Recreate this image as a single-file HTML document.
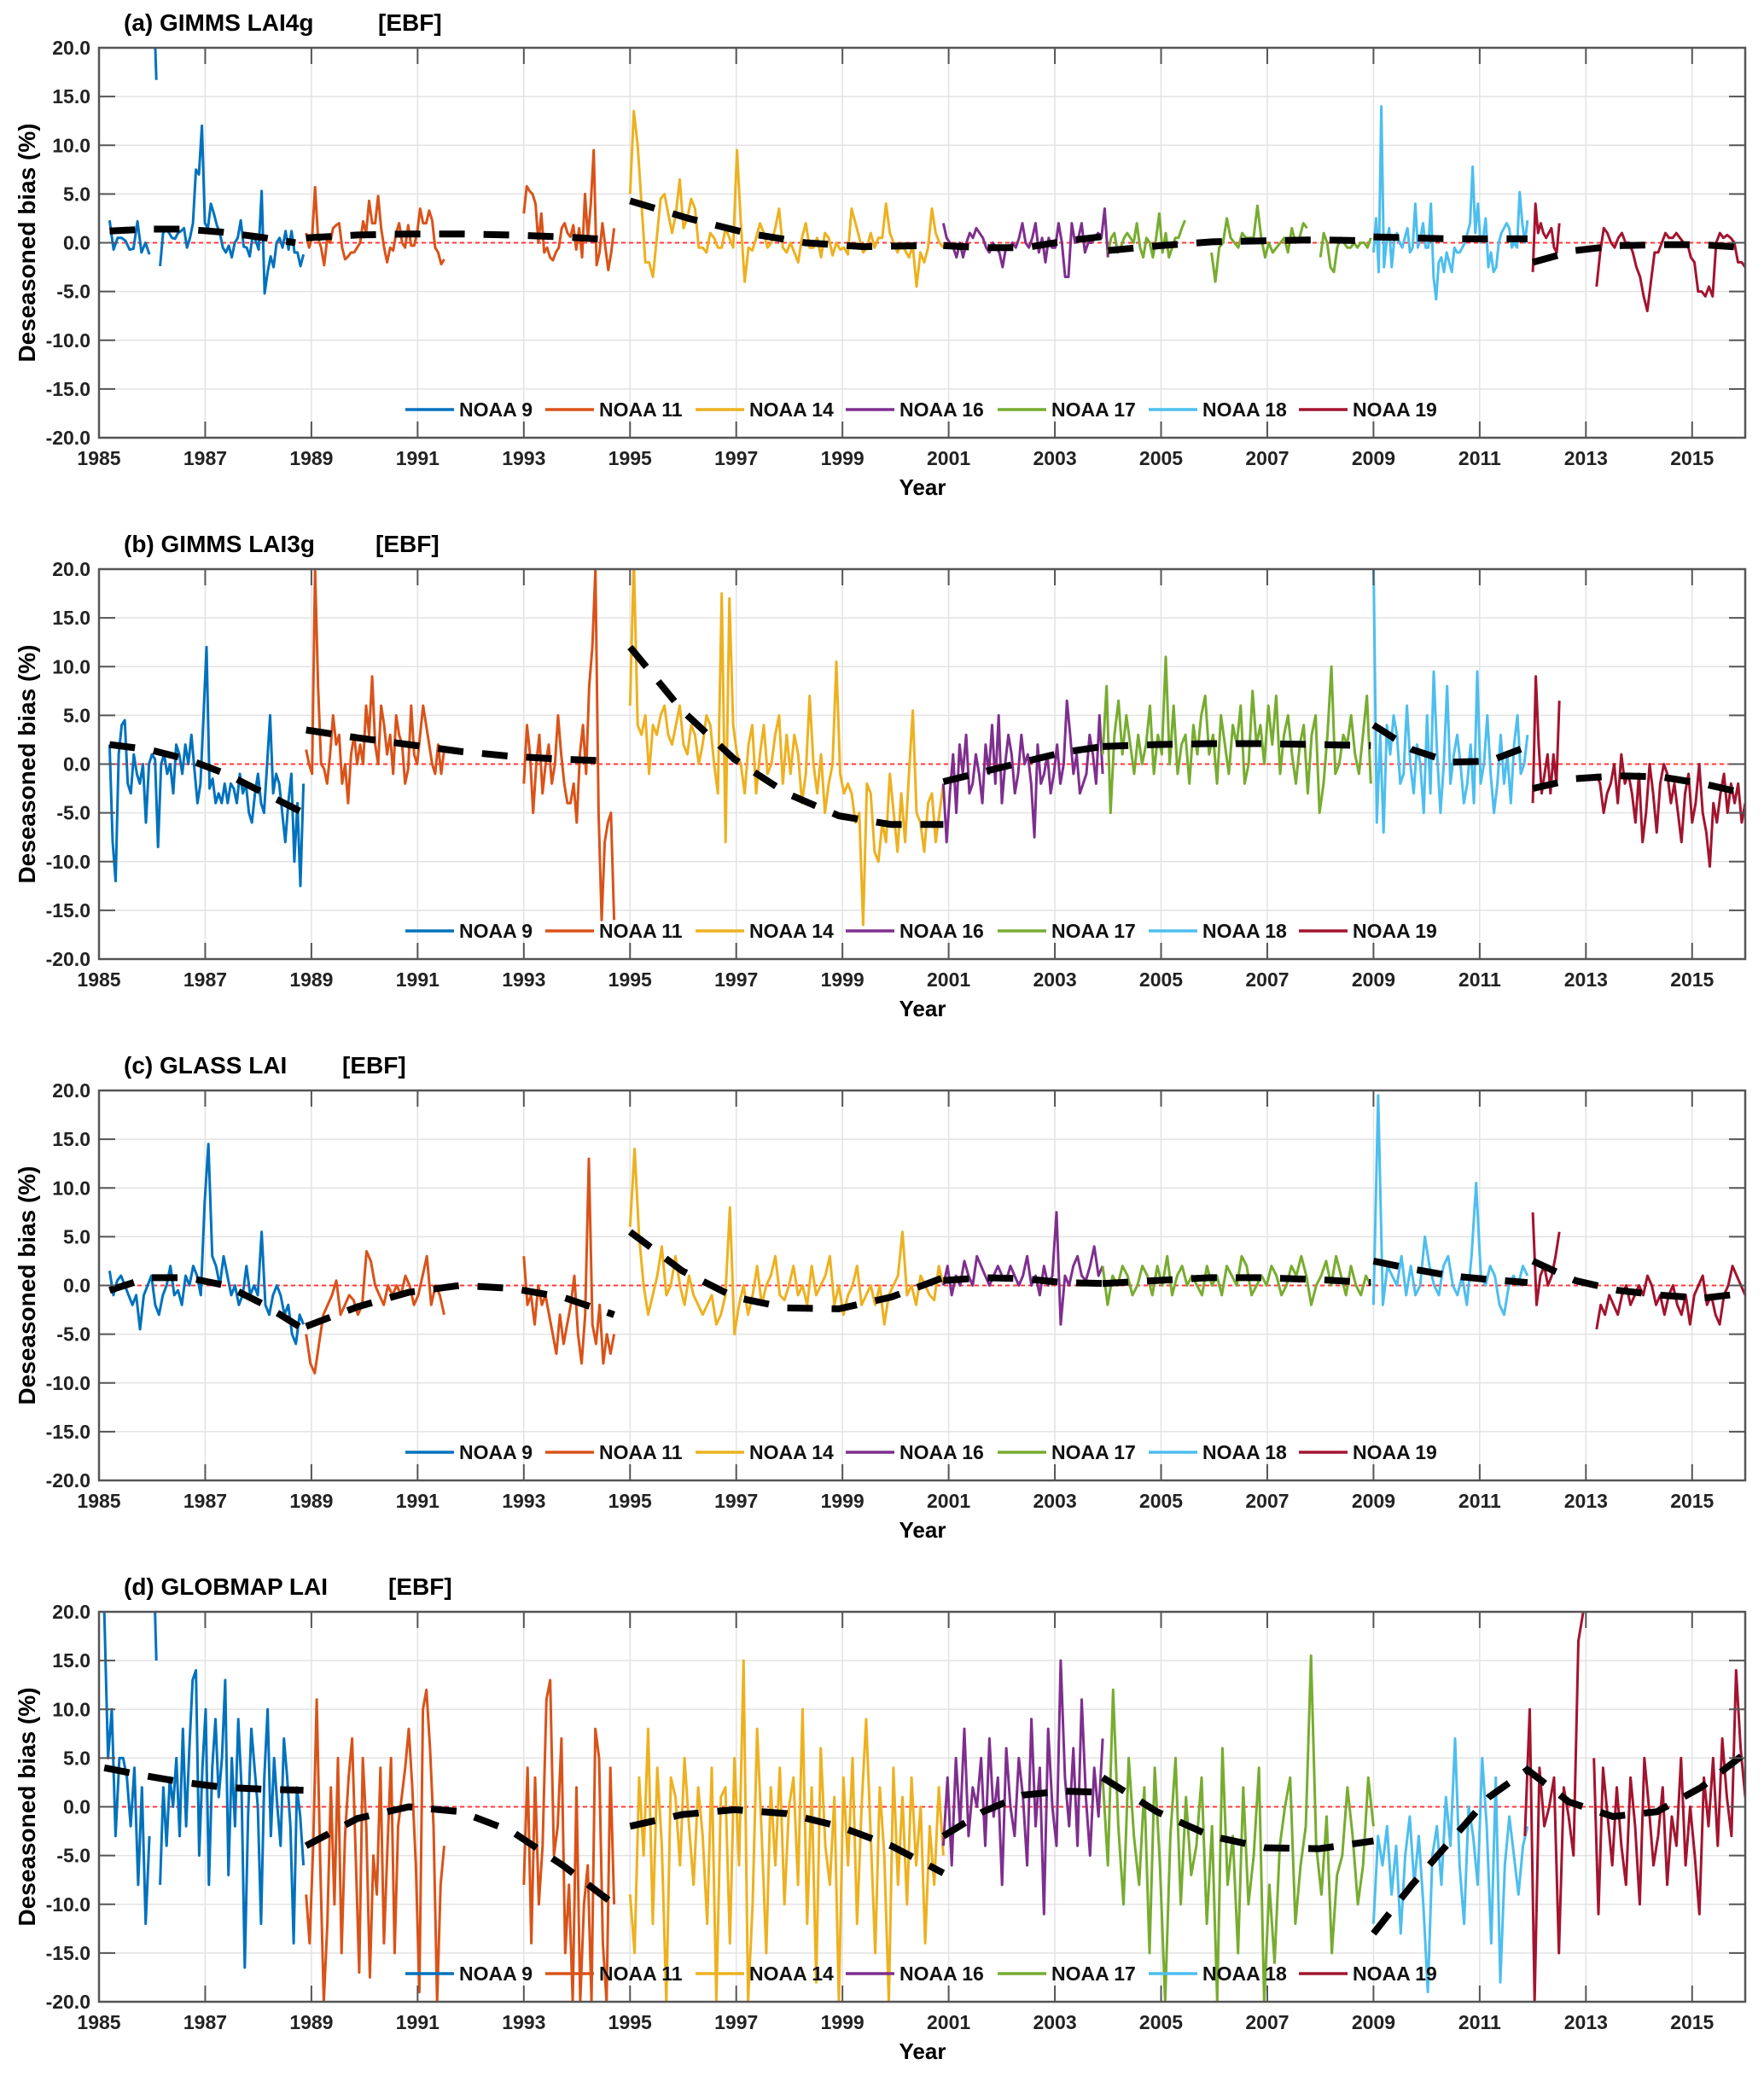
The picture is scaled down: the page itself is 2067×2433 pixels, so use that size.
<!DOCTYPE html>
<html><head><meta charset="utf-8"><style>
html,body{margin:0;padding:0;background:#fff;}
svg{display:block;font-family:"Liberation Sans",Arial,sans-serif;}
</style></head><body>
<svg id="chart" width="2067" height="2433" viewBox="0 0 2067 2433" xmlns="http://www.w3.org/2000/svg"></svg>
<script>
// ---- shared data ----
const satNames = ["NOAA 9","NOAA 11","NOAA 14","NOAA 16","NOAA 17","NOAA 18","NOAA 19"];
const satColors = ["#0072BD","#D95319","#EDB120","#7E2F8E","#77AC30","#4DBEEE","#A2142F"];
const xTicks = [1985,1987,1989,1991,1993,1995,1997,1999,2001,2003,2005,2007,2009,2011,2013,2015];
const yTicks = [-20,-15,-10,-5,0,5,10,15,20];
const panelTitles = ["(a) GIMMS LAI4g","(b) GIMMS LAI3g","(c) GLASS LAI","(d) GLOBMAP LAI"];

// ---- panel (a) ----
const aSats = [0,0,0,1,1,2,3,4,4,4,5,6,6];
const aSpans = [[1985.2,1985.95],[1986.03,1986.08],[1986.15,1988.85],[1988.9,1991.5],[1993.0,1994.7],[1995.0,2000.9],[2000.9,2004.0],[2004.0,2005.45],[2005.95,2007.75],[2008.0,2008.95],[2009.0,2011.9],[2012.0,2012.5],[2013.2,2016.0]];
const aVals = [
 [2.3,-0.7,0.5,0.5,0.2,-0.7,-0.6,2.2,-1,0,-1.2],
 [25,16.7],
 [-2.4,1,1.5,1,0.5,0.4,1,1.2,1.5,-0.5,0.5,2,7.5,7,12,2,1.5,4,3,1.8,1,-0.5,-1,-0.3,-1.5,0,0.5,2.3,-0.4,-0.5,-1.4,0.8,0.2,-0.7,5.3,-5.2,-3,-1.4,-2.5,0,0.5,-0.5,1.2,-0.7,1.2,-1,-1,-2.4,-1.2],
 [1,-0.5,0.5,5.7,0.5,-0.5,-2.3,0.3,0,1.5,1.8,2,-0.5,-1.7,-1.4,-1,-1,-0.5,0,2.2,1,4.3,2,2,4.8,1.5,-0.5,-2,-0.5,-0.8,1,2,0,-0.5,1.8,-0.3,-0.3,1,3.5,2,2,3.3,2.3,-0.5,-1,-2.2,-1.7],
 [3,5.8,5.3,5,4,0,3,-1,-0.5,-1.5,-1.8,-1,-0.5,1.5,2,1,0.6,1.8,-0.7,1.5,-1.5,5,0.5,4,9.5,-2.3,-1,2,-0.5,-2.8,-1,1.5],
 [5,13.5,10,4,-2,-2,-3.5,0.5,4.5,5,3,1,3,6.5,1.5,2.5,4.5,3.5,-0.5,-0.5,-1,1,0.5,-0.5,-0.5,1.5,0.5,-0.5,9.5,2,-4,-0.5,-0.8,0.5,2,1,-0.5,0,1.5,3.5,-0.5,-1,0,-1,-2,0.5,2,-0.5,-0.5,0.5,-1.5,1,0.5,-1.3,0,-0.7,-0.5,-1.2,3.5,2,0.5,-1,-0.5,1,-0.5,0.5,0.5,4,1,0,-1,0,-0.8,-1.5,-0.3,-4.5,-1,-2,-0.5,3.5,1,0,-0.5],
 [2,0.5,0,-0.5,-1.5,0,-1.5,0,1,0.5,1.5,1,0.5,-0.5,-1,0,-0.5,-1,-2.5,-0.5,-0.5,0,-0.5,0.5,2,0,-0.5,0.5,2,-1,0.5,-2,0.5,-0.5,-0.5,2,0,-3.5,-3.5,2,0,0.5,2,-1,0,0,0.5,1,0.5,3.5,-1.5],
 [-1,0.5,1,-1,-0.5,0.5,1,0.5,0,2,-0.5,-1.5,0.5,0,-1.5,0.5,3,-1,1,-1.5,-0.5,0.5,0.5,1.5,2.3],
 [-1,-4,-0.5,0,2.5,0.5,0,-0.5,1,0.5,0.5,0.5,3.8,0.5,-1.5,0,-1,-0.5,0,0.5,-1,1.5,0,0.5,2,1.5],
 [-1.5,1,0,-2.5,-3,-0.5,0.5,0,-0.5,-0.5,0,-0.5,0,0,-0.5,0.5],
 [-1,2.5,-3,14,-2.5,0,1.5,-2.5,0.5,1,0,-0.5,0.5,1.5,-1,-0.5,4,-0.5,0.5,2,-0.5,-0.5,4,-3.5,-5.8,-2,-1.5,-3,-1,-2,-3,-0.5,-1,-1,-0.5,0,1,2,7.8,1,4,0,0.5,2.5,-2.5,-1,-3,-2.5,0,1,1.5,2,1.5,-0.5,0,-0.5,5.2,2,0,2.3],
 [-3,4,1,2,1,0.5,1,1.5,-0.5,-1,2],
 [-4.5,-1,1.5,1,0,-0.5,0.5,1,0,0,-1,-2.5,-3.5,-5.5,-7,-4,-1,-1,0,1,0.5,0.5,1,0.5,0,0,-1.5,-2,-5,-5,-5.5,-4.5,-5.5,0,1,0.5,0.8,0.5,0,-2,-2,-2.5]
];
const aTrendSpans = [[1985.2,1988.7],[1988.9,1994.7],[1995.0,2000.5],[2000.9,2004.0],[2004.0,2008.9],[2009.0,2011.9],[2012.0,2016.0]];
const aTrendVals = [[1.2,1.4,1.4,1.1,0.6,0],[0.5,0.8,0.9,0.9,0.8,0.6,0.3],[4.3,2.5,1.0,0,-0.4,-0.3],[-0.3,-0.5,-0.5,0.2,0.7],[-0.8,-0.3,0.1,0.2,0.3,0.2],[0.6,0.5,0.4,0.4,0.4],[-2,-0.8,-0.3,-0.2,-0.2,-0.5]];

// ---- panel (b) ----
const bSats = [0,1,1,2,3,4,5,6,6];
const bSpans = [[1985.2,1988.85],[1988.9,1991.5],[1993.0,1994.7],[1995.0,2000.9],[2000.9,2003.9],[2003.9,2008.95],[2009.0,2011.9],[2012.0,2012.5],[2013.2,2016.0]];
const bVals = [
 [2,-8,-12,1,4,4.5,-2,-3,1,-1,-2,0,-6,0,1,0.5,-8.5,0,1,-1,0,-3,2,1,-1,2,0,3,-0.5,-4,-2,5,12,-2.5,-1.5,-4,-3,-4,-2,-4,-2,-2.5,-4,-1,-3,-2,-5,-6,-3,-1,-4,-5,0,5,-3,-1,-2,-5,-8,-4,-1,-10,-4,-12.5,-2],
 [1.5,0,-1,20,8,0,-0.5,-2,1,5,2,3,-2,0,-4,1,3,0,2,0,6,3,9,2,0,6,4,1,3,-1,5,3,2,-2,-0.5,6,1,0,3,6,4,2,0,-1,2,-1,1.5],
 [-2,4,1,-5,0,3,-3,0,2,-2,0,5,1,-2,-4,-4,-2,-6,1,4,-1,8,12,20,-5,-16,-8,-6,-5,-16],
 [6,21,4,3,5,-1,4,3,5,6,3,2,4,6,2,1,4,3,0,2,5,4,0,-3,17.5,-8,17,4,1,0,-3,2,4,-3,1,4,-1,0,3,5,-2,3,-1,3,1,-4,-1,7,0,-3,1,-5,-2,0,10.5,-1,-3,-2,-3,-6,-5,-16.5,-2,-3,-9,-10,-6,-8,-1,-5,-9,-3,-8,-1,5.5,-5,-6,-9,-4,-3,-8,-5,-2],
 [-2,-8,-3,1,-5,2,-1,3,-3,-2,1,-1,-4,2,-1,4,-2,5,-4,0,3,1,-3,-1,3,0,1,-2,-7.5,2,-2,-1,1,-3,-1,2,-2,0,6.5,3,-1,1,-3,-2,-1,3,1,-2,5,-1],
 [1,8,-5,3,6.5,1,5,2,-1,3,0,2,6,-1,3,1,11,0,6,-1,2,3,-2,4,1,5,7,1,3,-2,5,2,-1,4,2,6,-2,0,7.5,2,4,0,6,2,7,-1,3,5,1,-2,2,4,-3,3,5,-5,-2,3,10,-1,0,3,2,5,1,-1,3,7,-2],
 [21,-6,3,-7,4,1,5,3,-2,-1,6,0,-3,2,0,-5,5,-3,9.5,1,-5,0,8,-2,1,3,0,-4,-2,2,-4,9.5,-2,0,5,-1,-5,-2,3,-2,1,-4,2,5,-1,0,3],
 [-4,9,2,-3,-1,1,-3,1,-2,6.5],
 [-1,-2,-5,-3,-2,0,-4,1,-2,-1,-3,-6,-1,-8,-5,0,-3,-7,-2,0,-1,-4,-2,-5,-8,-3,-1,-6,-4,0,-5,-7,-10.5,-4,-6,-3,-1,-5,-2,-4,-2,-6,-4]
];
const bTrendSpans = [[1985.2,1988.85],[1988.9,1994.7],[1995.0,2000.9],[2000.9,2003.9],[2003.9,2008.95],[2009.0,2011.9],[2012.0,2016.0]];
const bTrendVals = [[2,1.5,0.5,-1,-3,-5],[3.5,2.7,2,1.3,0.8,0.5,0.3],[12,5.5,0.5,-3,-5.3,-6.2,-6.2],[-1.8,-0.8,0.2,1.2,1.8],[1.8,2,2.1,2.1,2,1.9],[4,1.5,0.2,0.3,1.8],[-2.5,-1.5,-1.2,-1.3,-2,-3]];

// ---- panel (c) ----
const cSats = [0,1,1,2,3,4,5,6,6];
const cSpans = [[1985.2,1988.85],[1988.9,1991.5],[1993.0,1994.7],[1995.0,2000.9],[2000.9,2003.9],[2003.9,2008.95],[2009.0,2011.9],[2012.0,2012.5],[2013.2,2016.0]];
const cVals = [
 [1.5,-1,0.5,1,0,-1,-2,-1,-4.5,-1,0,1,-2,-3,-1,0,2,-1,-0.5,-2,1,0,2,1,-1,8.5,14.5,3,2,0,3,1,-1,0,-2,-1,2,-1,0,-1,5.5,-2,-3,-1,0,-1,-3,-2,-5,-6,-3,-4],
 [-5,-8,-9,-6,-3,-2,-1,0.5,-3,-2,-1,-1.5,-3,-2,3.5,2.5,0,-1,-2,0,-1,0,-1,1,0,-2,-1,1,3,-2,0,-1,-3],
 [3,-2,-1,-4,0,-2,-1,-3,-5,-7,-3,-6,-4,-2,1,-5,-8,-3,13,-4,-6,-2,-8,-5,-7,-5],
 [6,14,5,0,-3,-1,1,4,-1,0,3,0,-2,1,-1,-2,-3,-2,-1,-4,-3,-1,8,-5,-2,0,-3,-1,2,-2,0,1,3,-1,-1.5,0,2,-1,0,-2,2,-1,0,1,3,-2,0,-3,-1,0,2,-2,-1,0,-2,0,-4,-1,0,1,5.5,-1,0,-2,1,0,-1,-1.5,2,0],
 [0,2,-1,1,0,2.5,1,0,3,2,1,0,1,2,1,0.5,2,1,0,1,3,0,1,-1,2,0,1,7.5,-4,1,0,2,3,1,0.5,2,4,1,2],
 [2,-2,1,0,2,1,-1,0,2,1,-1,2,0,3,-1,1,2,0,1,0,-1,2,0,1,-1,2,1,0,3,2,-1,0,1,0,2,1,-1,0,2,1,3,1,-2,0,1,2.5,0,3,1,-1,2,0,-1,1,0],
 [-2,19.5,-2,2,1,0,3,-1,2,-1,0,5,2,0,-1,2,3,0,-1,1,-2,3,10.5,1,0,2,1,-2,-3,0,1,0,2,1],
 [7.5,-2,1,2,0,1,3,5.5],
 [-4.5,-2,-3,-1,-2,-3,-1,0,-2,-1,0,-1,1,0,-2,-1,-3,-1,0,-2,-3,-1,-4,-1,0,1,-2,-1,-3,-4,-1,0,2,1,0,-1]
];
const cTrendSpans = bTrendSpans;
const cTrendVals = [[-0.5,0.8,0.8,0,-2,-4.5],[-4.2,-2.2,-0.7,0,-0.3,-1.2,-3],[5.5,1.5,-1.2,-2.3,-2.4,-1.2,0.8],[0.5,0.8,0.7,0.3,0.2],[0.2,0.5,0.8,0.8,0.6,0.3],[2.5,1.7,1,0.6,0.3],[2.5,0.5,-0.5,-1,-1.3,-0.8]];

// ---- panel (d) ----
const dSats = [0,0,0,1,1,2,3,4,5,6,6];
const dSpans = [[1985.1,1985.95],[1986.03,1986.08],[1986.15,1988.85],[1988.9,1991.5],[1993.0,1994.7],[1995.0,2000.9],[2000.9,2003.9],[2003.9,2009.0],[2009.0,2011.9],[2011.85,2012.95],[2013.15,2016.0]];
const dVals = [
 [20,5,10,-3,5,5,3,-2,4,-8,2,-12,-3],
 [25,15],
 [-8,2,-4,3,0,5,-3,8,-2,6,13,14,-5,4,10,-8,4,9,1,5,13,-7,5,-2,9,2,-16.5,-1,8,4,0,-12,3,10,-3,5,0,-4,7,3,-2,-14,2,-1,-6],
 [-9,-14,-4,11,-6,-20,-12,2,-10,5,-15,-3,3,7,-5,-17,5,-2,-17.5,-5,-9,4,-14,-4,5,-15,-2,1,4,8,2,-6,-19,10,12,6,-2,-20,-8,-4],
 [-8,4,-14,3,-10,-4,11,13,-5,-2,7,-15,-8,-20,2,-20,-10,-6,-20,8,5,-14,-20,4,-10],
 [-9,-15,3,-5,8,-12,4,-4,-20,3,1,-6,5,-2,-8,2,-3,-12,4,-20,1,2,-14,5,-6,15,-20,-10,8,-3,-15,2,-6,4,-10,0,3,-8,10,-12,2,-18,6,-4,-8,1,-20,3,-6,5,-12,0,9,-3,-15,2,-5,-20,4,-8,1,-10,3,-6,0,-14,-2,-8,2,-5],
 [-4,3,-6,5,-2,8,-3,2,0,5,-4,7,-1,3,-8,6,0,-3,5,1,-6,9,-2,4,-11,8,0,-4,15,3,-2,6,-4,11,1,-5,4,-1,7],
 [3,-6,12,-2,-10,5,-3,-8,2,-15,4,-6,-20,-3,5,-10,1,-7,-4,3,-12,-2,-20,6,-8,-3,-15,2,-10,-5,4,-20,-8,-16,-4,0,3,-12,-6,-2,15.5,-4,-9,-1,-15,-7,-5,2,-3,-10,-6,3,-2],
 [-12,-3,-6,-2,-9,-4,-13,-5,-1,-8,-3,-10,-19,-5,-2,-8,1,-4,7,-6,-12,0,-3,-8,5,-2,-14,3,-18,-6,-1,-5,-9,-4,-2],
 [-3,10,-20,4,-2,0,3,-15,2,-1,-5,17,20],
 [5,-11,4,-1,-6,2,-4,-8,3,-2,-10,5,0,-6,-3,2,-8,-1,-4,5,-6,0,-5,-11,3,-2,5,-4,7,1,-3,14,6,1]
];
const dTrendSpans = [[1985.1,1988.85],[1988.9,1994.7],[1995.0,2000.9],[2000.9,2003.9],[2003.9,2009.0],[2009.0,2011.9],[2011.85,2016.0]];
const dTrendVals = [[4,3.2,2.5,2,1.8,1.7],[-4,-1.2,0,-0.5,-2.5,-6,-10],[-2,-0.8,-0.3,-0.7,-2,-4,-6.8],[-3,-0.5,1.2,1.6,1.5],[3,-0.5,-3,-4.2,-4.3,-3.5],[-13,-8,-3.5,1,3.8],[4,0.5,-1,-0.5,2,5.5]];

const panels = [
 {sats:aSats,spans:aSpans,vals:aVals,tSpans:aTrendSpans,tVals:aTrendVals,ebfX:443},
 {sats:bSats,spans:bSpans,vals:bVals,tSpans:bTrendSpans,tVals:bTrendVals,ebfX:440},
 {sats:cSats,spans:cSpans,vals:cVals,tSpans:cTrendSpans,tVals:cTrendVals,ebfX:401},
 {sats:dSats,spans:dSpans,vals:dVals,tSpans:dTrendSpans,tVals:dTrendVals,ebfX:455}
];

// ---- layout ----
const NS = "http://www.w3.org/2000/svg";
const svg = document.getElementById('chart');
const L = 116, R = 2045, H = 457, TOP0 = 56, STEP = 611;
const X0 = 1985, X1 = 2016;
const legendX = [475,639,815,991,1169,1346,1522];
function xs(yr){ return L + (yr - X0) / (X1 - X0) * (R - L); }
function mk(tag, attrs, parent){ const e = document.createElementNS(NS, tag); for (const k in attrs) e.setAttribute(k, attrs[k]); (parent||svg).appendChild(e); return e; }

panels.forEach((p, pi) => {
  const top = TOP0 + pi * STEP, bot = top + H;
  const ys = v => bot - (v + 20) / 40 * H;
  const g = mk('g', {});
  
  
  const cp = mk('clipPath', {id: 'clip' + pi}, g);
  mk('rect', {x: L, y: top, width: R - L, height: H}, cp);
  const grid = mk('g', {stroke: '#e3e3e3', 'stroke-width': 1.5}, g);
  
  
  xTicks.forEach(t => mk('line', {x1: xs(t), x2: xs(t), y1: top, y2: bot}, grid));
  yTicks.forEach(t => mk('line', {x1: L, x2: R, y1: ys(t), y2: ys(t)}, grid));
  const z = mk('line', {x1: L, x2: R, y1: ys(0), y2: ys(0), stroke: '#ff3b3b', 'stroke-width': 2, 'stroke-dasharray': '5,4'}, g);
  
  
  const dg = mk('g', {'clip-path': 'url(#clip' + pi + ')', fill: 'none'}, g);
  p.vals.forEach((vals, si) => {
    const [s, e] = p.spans[si];
    const n = vals.length;
    const pts = vals.map((v, i) => xs(n > 1 ? s + (e - s) * i / (n - 1) : s).toFixed(1) + ',' + ys(v).toFixed(1)).join(' ');
    const pl = mk('polyline', {points: pts, stroke: satColors[p.sats[si]], 'stroke-width': 3, 'stroke-linejoin': 'round'}, dg);
    
    
  });
  p.tVals.forEach((vals, ti) => {
    const [s, e] = p.tSpans[ti];
    const n = vals.length;
    const pts = vals.map((v, i) => xs(s + (e - s) * i / (n - 1)).toFixed(1) + ',' + ys(v).toFixed(1)).join(' ');
    const pl = mk('polyline', {points: pts, stroke: '#000', 'stroke-width': 8, 'stroke-dasharray': '30,22'}, dg);
    
    
  });
  const box = mk('rect', {x: L, y: top, width: R - L, height: H, fill: 'none', stroke: '#555', 'stroke-width': 2.5}, g);
  
  
  const tk = mk('g', {stroke: '#555', 'stroke-width': 2}, g);
  xTicks.forEach(t => {
    mk('line', {x1: xs(t), x2: xs(t), y1: bot, y2: bot - 19}, tk);
    mk('line', {x1: xs(t), x2: xs(t), y1: top, y2: top + 19}, tk);
    const tx = mk('text', {x: xs(t), y: bot + 32, 'text-anchor': 'middle', 'font-size': 23, 'font-weight': 'bold', fill: '#222'}, g);
    tx.textContent = t;
    
    
  });
  yTicks.forEach(t => {
    mk('line', {x1: L, x2: L + 19, y1: ys(t), y2: ys(t)}, tk);
    mk('line', {x1: R, x2: R - 19, y1: ys(t), y2: ys(t)}, tk);
    const tx = mk('text', {x: L - 10, y: ys(t) + 8, 'text-anchor': 'end', 'font-size': 23, 'font-weight': 'bold', fill: '#222'}, g);
    tx.textContent = t.toFixed(1);
    
    
  });
  const ti = mk('text', {x: 145, y: top - 20, 'font-size': 28, 'font-weight': 'bold', fill: '#000'}, g);
  ti.textContent = panelTitles[pi];
  
  
  const eb = mk('text', {x: p.ebfX, y: top - 20, 'font-size': 28, 'font-weight': 'bold', fill: '#000'}, g);
  eb.textContent = '[EBF]';
  
  
  const yl = mk('text', {x: 0, y: 0, transform: 'translate(41,' + (top + H / 2) + ') rotate(-90)', 'text-anchor': 'middle', 'font-size': 28, 'font-weight': 'bold', fill: '#000'}, g);
  yl.textContent = 'Deseasoned bias (%)';
  
  
  const xl = mk('text', {x: 1081, y: bot + 67, 'text-anchor': 'middle', 'font-size': 26, 'font-weight': 'bold', fill: '#000'}, g);
  xl.textContent = 'Year';
  
  
  const lg = mk('g', {}, g);
  
  
  satNames.forEach((nm, i) => {
    const ly = bot - 33;
    const item = mk('g', {}, lg);
    
    
    mk('line', {x1: legendX[i], x2: legendX[i] + 57, y1: ly, y2: ly, stroke: satColors[i], 'stroke-width': 3.5}, item);
    const t = mk('text', {x: legendX[i] + 63, y: ly + 8, 'font-size': 23, 'font-weight': 'bold', fill: '#111'}, item);
    t.textContent = nm;
  });
});
</script>
</body></html>
